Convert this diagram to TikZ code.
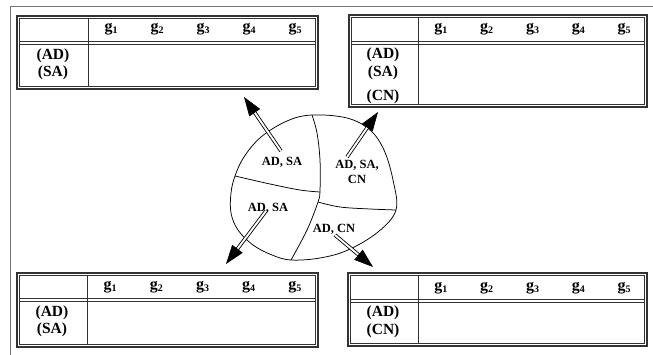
\documentclass[tikz,border=0pt]{standalone}
\usepackage{fontspec}
\setmainfont{Liberation Serif}
\usetikzlibrary{arrows.meta,calc}
\newcommand{\gsub}[1]{{\bfseries g}\raisebox{-0.3ex}{\fontsize{10}{10}\selectfont\bfseries #1}}
\newcommand{\gtab}[6]{%
  \draw[tabouter] (#1,#2) rectangle (#3,#4);
  \draw[tabinner] (#1+2.6,#2+2.6) rectangle (#3-2.6,#4-2.6);
  \draw[tabinner] (#1+2.6,#5-1.3) -- (#3-2.6,#5-1.3);
  \draw[tabinner] (#1+2.6,#5+1.3) -- (#3-2.6,#5+1.3);
  \draw[tabdiv] (#6,#2+2.6) -- (#6,#4-2.6);
}
\begin{document}
\begin{tikzpicture}[x=1pt,y=-1pt,
  frame/.style={draw=black!55,line width=0.8pt},
  tabouter/.style={draw=black!80,line width=1.1pt},
  tabinner/.style={draw=black!80,line width=0.6pt},
  tabdiv/.style={draw=black!80,line width=0.9pt},
  glab/.style={inner sep=0pt,font=\fontsize{16}{16}\selectfont},
  rowlab/.style={inner sep=0pt,font=\fontsize{15.5}{16}\selectfont\bfseries},
  bloblab/.style={inner sep=0pt,align=center,font=\fontsize{12.5}{14.5}\selectfont\bfseries},
  blob/.style={draw=black,line width=0.75pt},
  shaft/.style={draw=black,line width=0.85pt,double=white,double distance=1.9pt,shorten >=12pt},
  head/.style={draw=black,line width=0.6pt,-{Triangle[length=19pt,width=13pt]}}
]
\useasboundingbox (0,0) rectangle (653,355);
\fill[white] (0,0) rectangle (653,355);
% outer frame
\draw[frame] (10,356) -- (10,6) -- (654,6);

% tables
\gtab{17}{16}{318}{89}{43}{88}
\gtab{349}{15}{647}{107}{43}{418}
\gtab{17}{273}{318}{347}{300}{87}
\gtab{348}{273}{647}{346}{301}{418}

% header labels
\foreach \i in {1,...,5} {
  \node[glab] (tlg\i) at ({88+46*(\i-0.5)},29) {\gsub{\i}};
  \node[glab] (trg\i) at ({418+45.8*(\i-0.5)},29) {\gsub{\i}};
  \node[glab] (blg\i) at ({87+46.2*(\i-0.5)},287) {\gsub{\i}};
  \node[glab] (brg\i) at ({418+45.8*(\i-0.5)},288) {\gsub{\i}};
}
% row labels
\node[rowlab] (tlad) at (53,56) {(AD)};
\node[rowlab] (tlsa) at (53,73) {(SA)};
\node[rowlab] (trad) at (383,55) {(AD)};
\node[rowlab] (trsa) at (383,73) {(SA)};
\node[rowlab] (trcn) at (383,97) {(CN)};
\node[rowlab] (blad) at (52,313) {(AD)};
\node[rowlab] (blsa) at (52,330) {(SA)};
\node[rowlab] (brad) at (383,313) {(AD)};
\node[rowlab] (brcn) at (383,331) {(CN)};

% blob
\draw[blob] plot[smooth cycle,tension=0.6] coordinates {
  (312,115) (347,118) (370,130) (384,150) (393,180) (396,210) (378,232)
  (348,250) (320,258) (291,260) (272,255) (253,245) (238,230) (231,213)
  (231,193) (235,176) (244,157) (261,137) (287,121)};
\draw[blob] plot[smooth,tension=0.6] coordinates {
  (312,115) (317,133) (320,160) (320,190) (318,202) (307,230) (291,260)};
\draw[blob] plot[smooth,tension=0.6] coordinates {
  (235,176) (270,184) (300,190) (320,192)};
\draw[blob] plot[smooth,tension=0.6] coordinates {
  (318,202) (340,207) (370,209) (396,210)};

% blob labels
\node[bloblab] (r1) at (282,162) {AD, SA};
\node[bloblab] (r2) at (357,172) {AD, SA,\\CN};
\node[bloblab] (r3) at (268,208) {AD, SA};
\node[bloblab] (r4) at (334,229) {AD, CN};

% arrows
\coordinate (t1) at (281,151); \coordinate (h1) at (244,97);
\coordinate (t2) at (347,157); \coordinate (h2) at (378,112);
\coordinate (t3) at (266,211); \coordinate (h3) at (226,264);
\coordinate (t4) at (335,235); \coordinate (h4) at (373,267);
\foreach \k in {1,2,3,4} {
  \draw[shaft] (t\k) -- (h\k);
  \coordinate (b\k) at ($(h\k)!19pt!(t\k)$);
  \draw[head] (b\k) -- (h\k);
}
\end{tikzpicture}
\end{document}
